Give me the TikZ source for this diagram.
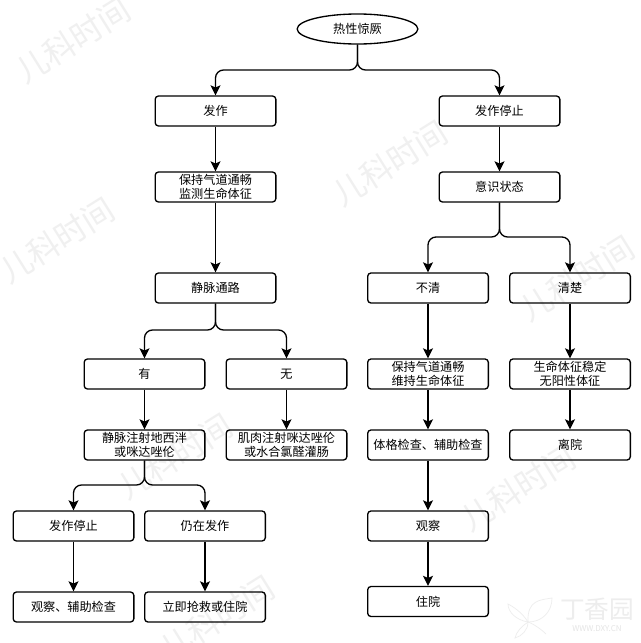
\documentclass[tikz,border=0pt]{standalone}
\usepackage{fontspec}
\setmainfont{Noto Sans CJK SC}
\usetikzlibrary{arrows.meta,shapes.geometric}
\tikzset{
  box/.style={draw=black,line width=1pt,rounded corners=2.5pt,minimum width=90.5pt,minimum height=22.5pt,inner sep=0pt,align=center,font=\fontsize{9.1}{10.9}\selectfont},
  startnode/.style={draw=black,line width=1pt,ellipse,minimum width=90.5pt,minimum height=22.5pt,inner sep=0pt,font=\fontsize{9.1}{10.9}\selectfont},
  conn/.style={draw=black,line width=1pt,rounded corners=6pt,-{Stealth[length=7.5pt,width=7.5pt,inset=1.6pt]}},
  wmark/.style={text=black!6,font=\fontsize{24}{24}\selectfont,rotate=32,inner sep=0pt},
  logoline/.style={draw=black!7,line width=0.5pt},
}
\begin{document}
\begin{tikzpicture}[x=0.75pt,y=-0.75pt]
\useasboundingbox (0,0) rectangle (640,643);
\fill[white] (0,0) rectangle (640,643);
% watermarks
\node[wmark] (w1) at (73,40) {儿科时间};
\node[wmark] (w2) at (57,240) {儿科时间};
\node[wmark] (w3) at (390,163) {儿科时间};
\node[wmark] (w4) at (577,278) {儿科时间};
\node[wmark] (w5) at (175,456) {儿科时间};
\node[wmark] (w6) at (518,488) {儿科时间};
\node[wmark] (w7) at (217,618) {儿科时间};
% logo
\node[text=black!7,font=\fontsize{18.5}{18.5}\selectfont,inner sep=0pt] (lg) at (597,609) {丁香园};
\node[text=black!10,font=\fontsize{6}{6}\selectfont,inner sep=0pt] (lu) at (597,629) {WWW.DXY.CN};
\draw[logoline] (528,622) .. controls (527,600) and (540,600) .. (552,598) .. controls (552,612) and (542,622) .. (528,622);
\draw[logoline] (528,622) .. controls (522,612) and (512,606) .. (508,604) .. controls (508,612) and (516,620) .. (528,622);
\draw[logoline] (528,622) .. controls (522,626) and (516,632) .. (515,638) .. controls (522,636) and (528,630) .. (528,622);
\draw[logoline] (528,622) .. controls (534,624) and (542,630) .. (546,634);
% nodes
\node[startnode] (start) at (357.5,29) {热性惊厥};
\node[box] (fz) at (215.5,111) {发作};
\node[box] (stopr) at (499.5,111) {发作停止};
\node[box] (airway) at (215.5,187) {保持气道通畅\\监测生命体征};
\node[box] (cons) at (499.5,187) {意识状态};
\node[box] (iv) at (215.5,288) {静脉通路};
\node[box] (buqing) at (428,288) {不清};
\node[box] (qingchu) at (570,288) {清楚};
\node[box] (you) at (144.5,374) {有};
\node[box] (wu) at (286.5,374) {无};
\node[box] (keep) at (428,374) {保持气道通畅\\维持生命体征};
\node[box] (stable) at (570,374) {生命体征稳定\\无阳性体征};
\node[box] (ivinj) at (144.5,445) {静脉注射地西泮\\或咪达唑伦};
\node[box] (iminj) at (286.5,445) {肌肉注射咪达唑伦\\或水合氯醛灌肠};
\node[box] (exam) at (428,445) {体格检查、辅助检查};
\node[box] (leave) at (570,445) {离院};
\node[box] (stopl) at (73.5,526) {发作停止};
\node[box] (still) at (205,526) {仍在发作};
\node[box] (obs) at (428,526) {观察};
\node[box] (obsl) at (73.5,607) {观察、辅助检查};
\node[box] (rescue) at (205,607) {立即抢救或住院};
\node[box] (hosp) at (428,601.5) {住院};
% junctions
\coordinate (j1) at (357.5,70);
\coordinate (j2) at (499.5,237);
\coordinate (j3) at (215.5,330);
\coordinate (j4) at (144.5,485);
% connectors
\draw[conn] (start.south) -- (j1) -| (fz.north);
\draw[conn] (start.south) -- (j1) -| (stopr.north);
\draw[conn] (fz) -- (airway);
\draw[conn] (airway) -- (iv);
\draw[conn] (stopr) -- (cons);
\draw[conn] (cons.south) -- (j2) -| (buqing.north);
\draw[conn] (cons.south) -- (j2) -| (qingchu.north);
\draw[conn] (iv.south) -- (j3) -| (you.north);
\draw[conn] (iv.south) -- (j3) -| (wu.north);
\draw[conn] (you) -- (ivinj);
\draw[conn] (wu) -- (iminj);
\draw[conn] (ivinj.south) -- (j4) -| (stopl.north);
\draw[conn] (ivinj.south) -- (j4) -| (still.north);
\draw[conn] (stopl) -- (obsl);
\draw[conn] (still) -- (rescue);
\draw[conn] (buqing) -- (keep);
\draw[conn] (keep) -- (exam);
\draw[conn] (exam) -- (obs);
\draw[conn] (obs) -- (hosp);
\draw[conn] (qingchu) -- (stable);
\draw[conn] (stable) -- (leave);
\end{tikzpicture}
\end{document}
